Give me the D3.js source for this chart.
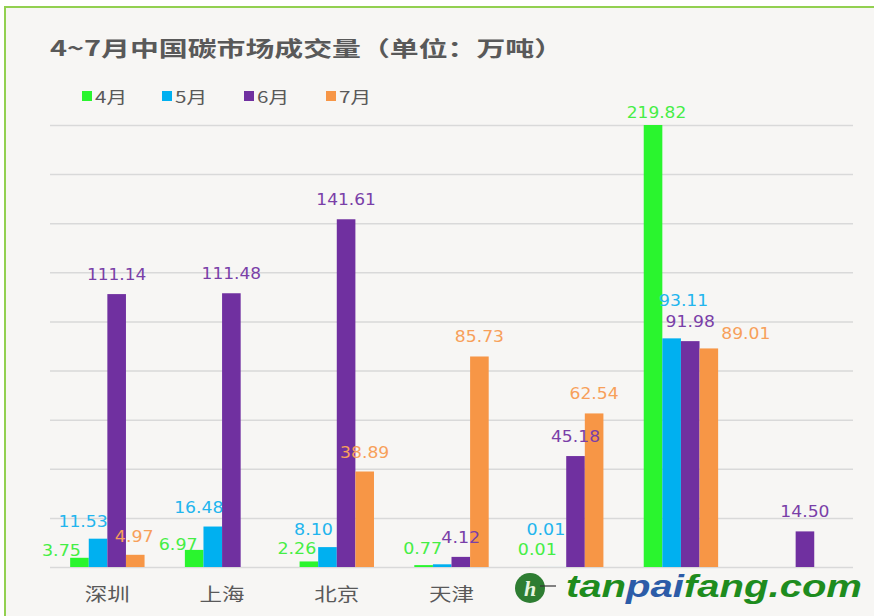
<!DOCTYPE html>
<html><head><meta charset="utf-8">
<script src="https://cdn.jsdelivr.net/npm/d3@7"></script>
<style>html,body{margin:0;padding:0;background:#fff;}svg{display:block;}</style>
</head><body>
<svg id="chart" width="874" height="616"></svg>
<script>
const categories = ['深圳','上海','北京','天津','广东','湖北','重庆'];
const seriesNames = ['4月','5月','6月','7月'];
const apr = [3.75, 6.97, 2.26, 0.77, 0.01, 219.82, null];
const may = [11.53, 16.48, 8.10, 1.10, 0.01, 93.11, null];
const jun = [111.14, 111.48, 141.61, 4.12, 45.18, 91.98, 14.50];
const jul = [4.97, null, 38.89, 85.73, 62.54, 89.01, null];
const yTicks = [0,20,40,60,80,100,120,140,160,180];
const titleText = '4~7月中国碳市场成交量（单位：万吨）';

const barColors = ['#2AF52E','#00B0F0','#7030A0','#F79646'];
const labelColors = ['#45EE45','#22B5EE','#7A3FA8','#F7A05A'];
const allSeries = [apr, may, jun, jul];

const svg = d3.select('#chart');
const W = 874, H = 616;
const m = {left: 50, right: 874-853, top: 125, bottom: 616-567};

// frame
svg.append('rect').attr('x',0).attr('y',0).attr('width',W).attr('height',H).attr('fill','#fff');
svg.append('rect').attr('x',5).attr('y',7).attr('width',W+10).attr('height',H+10)
  .attr('fill','#F7F6F4').attr('stroke','#92D050').attr('stroke-width',2);

// title
svg.append('text').attr('x',50).attr('y',56)
  .attr('font-family','"Noto Sans CJK SC", "Noto Sans", sans-serif')
  .attr('font-weight','bold').attr('font-size',21).attr('fill','#595959')
  .attr('textLength',513).attr('lengthAdjust','spacingAndGlyphs')
  .text(titleText);

// legend
const legX = [82,162,244,326];
seriesNames.forEach((s,i)=>{
  svg.append('rect').attr('x',legX[i]).attr('y',91).attr('width',10).attr('height',10).attr('fill',barColors[i]);
  svg.append('text').attr('x',legX[i]+13).attr('y',103)
    .attr('font-family','"Noto Sans CJK SC", sans-serif').attr('font-size',16).attr('fill','#595959')
    .attr('textLength',32).attr('lengthAdjust','spacingAndGlyphs')
    .text(s);
});

const x0 = d3.scaleBand().domain(categories).range([m.left, W-m.right]).padding(0);
const barW = 18.6;
const x1 = d3.scaleBand().domain(d3.range(4)).range([0, barW*4]);
const y = d3.scaleLinear().domain([0,180]).range([H-m.bottom, m.top]);

// gridlines
svg.append('g').attr('class','grid')
  .call(d3.axisLeft(y).tickValues(yTicks).tickSize(-(W-m.left-m.right)).tickFormat(''))
  .attr('transform',`translate(${m.left},0)`)
  .call(g=>g.select('.domain').remove())
  .call(g=>g.selectAll('line').attr('stroke','#D9D9D9').attr('stroke-width',1.5));

// bars
const plotTop = y(180);
const barData = [];
categories.forEach((c,ci)=>{
  allSeries.forEach((arr,si)=>{
    const v = arr[ci];
    if (v === null || v === undefined) return;
    const gx = x0(c) + (x0.bandwidth()-barW*4)/2 + x1(si);
    const top = Math.max(y(v), plotTop);
    barData.push({c, ci, si, v, x: gx, top});
  });
});
svg.append('g').selectAll('rect').data(barData).enter().append('rect')
  .attr('x',d=>d.x).attr('y',d=>d.top).attr('width',barW)
  .attr('height',d=>y(0)-d.top).attr('fill',d=>barColors[d.si]);

// value labels (nudges reproduce the original label placement)
const nudge = {
  '0-0':[-18,12], '0-1':[-15,2], '0-3':[-1,1],
  '1-0':[-16,14], '1-1':[-14,0],
  '2-0':[-12,7], '2-1':[-14,2],
  '3-0':[-1,3],
  '4-0':[-1,2], '4-1':[-11,-18],
  '5-0':[3.5,7], '5-1':[12,-18], '5-3':[37,5]
};
const hidden = new Set(['3-1']);
svg.append('g').selectAll('text').data(barData.filter(d=>!hidden.has(d.ci+'-'+d.si))).enter().append('text')
  .attr('x',d=>d.x+barW/2 + (nudge[d.ci+'-'+d.si]||[0,0])[0])
  .attr('y',d=>d.top-14 + (nudge[d.ci+'-'+d.si]||[0,0])[1])
  .attr('text-anchor','middle')
  .attr('font-family','"DejaVu Sans", Verdana, sans-serif').attr('font-size',15.5)
  .attr('fill',d=>labelColors[d.si])
  .text(d=>d.v.toFixed(2))
  .each(function(d){
    const s = d.v.toFixed(2);
    const digits = s.replace('.','').length;
    d3.select(this).attr('textLength', digits*10.3 + 8).attr('lengthAdjust','spacingAndGlyphs');
  });

// category labels (the last three are covered by the site watermark in the original)
const wmLeft = 512;
svg.append('g').selectAll('text')
  .data(categories.filter(c=>x0(c)+x0.bandwidth()/2 - 25 < wmLeft)).enter().append('text')
  .attr('x',d=>x0(d)+x0.bandwidth()/2).attr('y',601)
  .attr('text-anchor','middle')
  .attr('font-family','"Noto Sans CJK SC", sans-serif').attr('font-size',18).attr('fill','#595959')
  .attr('textLength',d=>d.length*22.5).attr('lengthAdjust','spacingAndGlyphs')
  .text(d=>d);

// site watermark
const wm = svg.append('g');
wm.append('circle').attr('cx',530).attr('cy',588).attr('r',15).attr('fill','#2E7D32');
wm.append('text').attr('x',530).attr('y',596).attr('text-anchor','middle')
  .attr('font-family','"Liberation Serif", serif').attr('font-style','italic').attr('font-weight','bold')
  .attr('font-size',22).attr('fill','#E8F5E0').text('h');
wm.append('line').attr('x1',540).attr('x2',556).attr('y1',586).attr('y2',586).attr('stroke','#333').attr('stroke-width',1.2);
const wt = wm.append('text').attr('x',566).attr('y',597)
  .attr('font-family','"Liberation Sans", Arial, sans-serif').attr('font-weight','bold').attr('font-style','italic')
  .attr('font-size',31).attr('textLength',296).attr('lengthAdjust','spacingAndGlyphs');
wt.append('tspan').attr('fill','#1E8C1E').text('tan');
wt.append('tspan').attr('fill','#2C5CA8').text('pai');
wt.append('tspan').attr('fill','#1E8C1E').text('fang.com');
</script>
</body></html>
